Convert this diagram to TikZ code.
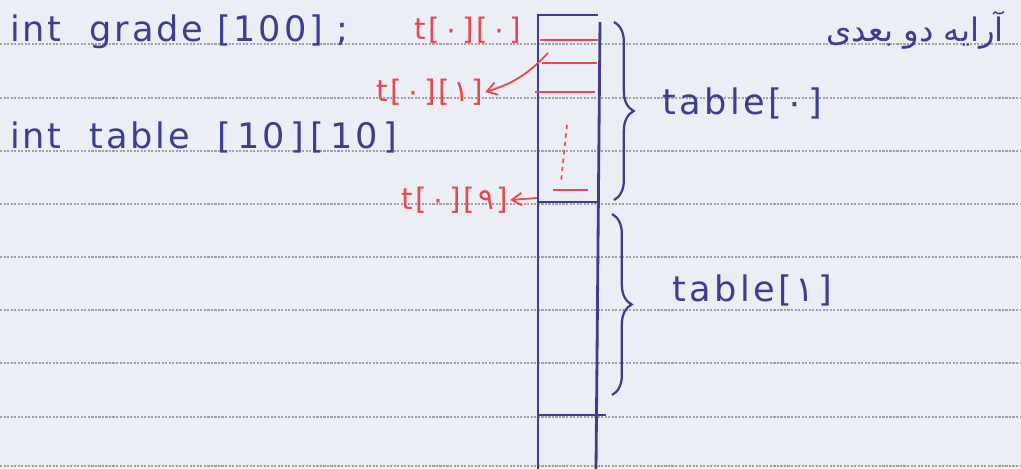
\documentclass[tikz,border=0pt]{standalone}
\usepackage{fontspec}
\setmainfont[LetterSpace=8]{DejaVu Sans}
\newfontfamily\fafont[Script=Arabic]{DejaVu Sans}
\newfontfamily\digfont[LetterSpace=10]{DejaVu Sans}
\TeXXeTstate=1
\usetikzlibrary{arrows.meta, positioning, decorations.pathreplacing}

\definecolor{paper}{RGB}{236,238,246}
\definecolor{ink}{RGB}{62,62,145}
\definecolor{redink}{RGB}{232,72,78}
\definecolor{rulegray}{RGB}{160,160,166}

\begin{document}
\begin{tikzpicture}[
  x=0.025cm, y=-0.025cm,
  code/.style={text=ink, font=\fontsize{25}{27}\selectfont, anchor=base west, inner sep=0pt},
  idx/.style={text=redink, font=\digfont\fontsize{21}{23}\selectfont, inner sep=1pt},
  rowlbl/.style={text=ink, font=\digfont\fontsize{25}{27}\selectfont, inner sep=1pt},
  cell/.style={draw=ink, line width=2pt},
  redline/.style={draw=redink, line width=1.6pt},
  arrow/.style={-{Straight Barb[length=7pt,width=9pt]}, draw=redink, line width=1.3pt},
  brace/.style={decorate, decoration={brace, amplitude=14pt}, draw=ink, line width=1.6pt}
]
  % paper and ruling
  \fill[paper] (0,0) rectangle (1021,468);
  \useasboundingbox (0,0) rectangle (1021,468);
  \foreach \y in {44,98,151,204,257,310,363,417,466}
    \draw[rulegray, dash pattern=on 1.5pt off 1pt, line width=0.8pt] (0,\y) -- (1021,\y);

  % declarations
  \node[code] (grade) at (10,41) {int\ \ grade [100] ;};
  \node[code] (table) at (10,148) {int\ \ table\ \ [\,10\,]\,[\,10\,]};

  % memory column
  \draw[cell] (538,470) -- (538,15) -- (598,15);
  \draw[cell] (600,22) -- (596,470);
  \draw[cell] (538,202) -- (598,202);
  \draw[cell] (538,415) -- (606,415);

  % first row cells
  \draw[redline] (540,40) -- (598,40);
  \draw[redline] (542,63) -- (597,63);
  \draw[redline] (535,92) -- (595,92);
  \draw[redline] (553,190) -- (588,190);
  \draw[redink, dashed, line width=1.2pt] (567,125) -- (561,182);

  % element labels
  \node[idx] (t00) at (468,30) {t[۰][۰]};
  \node[idx] (t01) at (430,92) {t[۰][۱]};
  \node[idx] (t09) at (455,200) {t[۰][۹]};
  \coordinate (c01) at (548,53);
  \coordinate (c09) at (537,198);
  \draw[arrow] (c01) to[bend left=15] (t01.east);
  \draw[arrow] (c09) -- (t09.east);

  % rows
  \draw[brace] (614,22) -- (614,200);
  \draw[brace] (612,214) -- (612,395);
  \node[rowlbl] (row0) at (742,103) {table[۰]};
  \node[rowlbl] (row1) at (752,290) {table[۱]};

  % heading
  \node[text=ink, font=\fafont\fontsize{23}{25}\selectfont] (title) at (915,30) {\beginR آرایه دو بعدی\endR};
\end{tikzpicture}
\end{document}
